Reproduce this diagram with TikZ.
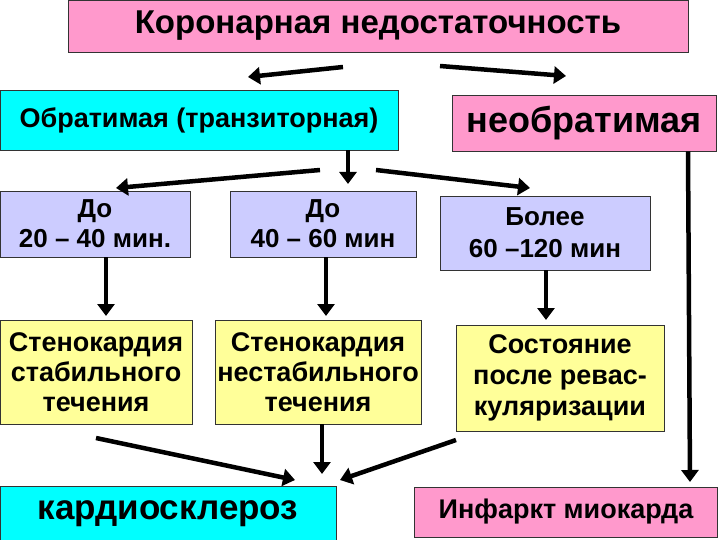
\documentclass[tikz,border=0pt]{standalone}
\usepackage{fontspec}
\setmainfont{Liberation Sans}
\usetikzlibrary{arrows.meta}
\definecolor{pk}{RGB}{255,153,204}
\definecolor{cy}{RGB}{0,255,255}
\definecolor{lv}{RGB}{204,204,255}
\definecolor{yl}{RGB}{255,255,153}
\begin{document}
\begin{tikzpicture}[x=1pt,y=-1pt,
 box/.style={draw=black!80,line width=0.8pt,inner sep=0pt,align=center,font=\bfseries},
 arr/.style={line width=4.5pt,-{Triangle[length=12pt,width=17pt]}},
 fs/.style 2 args={font=\bfseries\fontsize{#1}{#2}\selectfont}]
\useasboundingbox (0,0) rectangle (720,540);
\node[box,fill=pk,minimum width=620,minimum height=52,fs={33}{38}] (top) at (378,26) {Коронарная недостаточность};
\node[box,fill=cy,minimum width=398,minimum height=60,fs={27}{30}] (rev) at (199,120) {Обратимая (транзиторная)};
\node[box,fill=pk,minimum width=264,minimum height=56,fs={36}{40}] (irr) at (584,123) {необратимая};
\node[box,fill=lv,minimum width=190,minimum height=66,fs={26}{30}] (t1) at (95,224) {До\\20 – 40 мин.};
\node[box,fill=lv,minimum width=186,minimum height=66,fs={26}{30}] (t2) at (323,224) {До\\40 – 60 мин};
\node[box,fill=lv,minimum width=210,minimum height=74,fs={26}{32}] (t3) at (545,233) {Более\\60 –120 мин};
\node[box,fill=yl,minimum width=192,minimum height=104,fs={27}{30}] (s1) at (96,372) {Стенокардия\\стабильного\\течения};
\node[box,fill=yl,minimum width=206,minimum height=104,fs={27}{30}] (s2) at (318,372) {Стенокардия\\нестабильного\\течения};
\node[box,fill=yl,minimum width=208,minimum height=106,fs={27}{31}] (s3) at (560,378) {Состояние\\после ревас-\\куляризации};
\node[box,fill=cy,minimum width=336,minimum height=56,fs={35}{40}] (kard) at (168,514) {кардиосклероз};
\node[box,fill=pk,minimum width=303,minimum height=50,fs={27}{30}] (inf) at (566,512) {Инфаркт миокарда};
\coordinate (a1) at (343,67); \coordinate (a1e) at (248,77);
\coordinate (a2) at (440,66); \coordinate (a2e) at (566,76);
\draw[arr] (a1) -- (a1e);
\draw[arr] (a2) -- (a2e);
\draw[arr] (rev.south -| 348,0) -- (348,184);
\coordinate (b1) at (320,170); \coordinate (b1e) at (116,188);
\coordinate (b2) at (376,170); \coordinate (b2e) at (530,188);
\draw[arr] (b1) -- (b1e);
\draw[arr] (b2) -- (b2e);
\draw[arr] (t1.south -| 106,0) -- (106,316);
\draw[arr] (t2.south -| 326,0) -- (326,316);
\draw[arr] (t3.south -| 546,0) -- (546,320);
\draw[arr] (irr.south -| 688,0) -- (690,482);
\coordinate (c1) at (96,438); \coordinate (c1e) at (295,480);
\coordinate (c2) at (456,440); \coordinate (c2e) at (340,480);
\draw[arr] (c1) -- (c1e);
\draw[arr] (c2) -- (c2e);
\draw[arr] (s2.south -| 322,0) -- (322,474);
\end{tikzpicture}
\end{document}
